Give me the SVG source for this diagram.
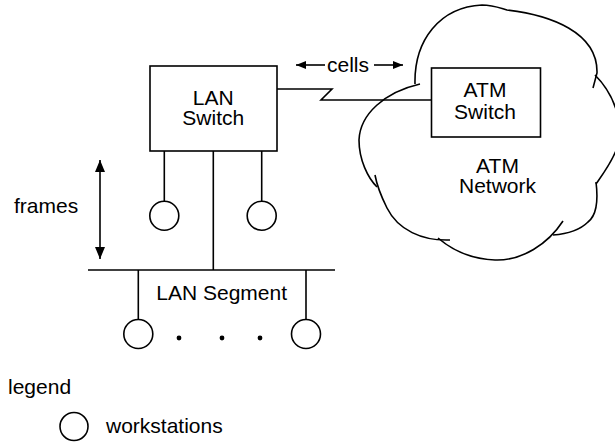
<svg xmlns="http://www.w3.org/2000/svg" width="615" height="442" viewBox="0 0 615 442">
<style>
.s{fill:none;stroke:#000;stroke-width:1.6}
.b{fill:#fff;stroke:#000;stroke-width:1.6}
.t{font-family:"Liberation Sans",Arial,Helvetica,sans-serif;font-size:21px;fill:#000}
.m{text-anchor:middle}
</style>
<defs>
<marker id="ah" viewBox="0 0 10 10" refX="10" refY="5" markerWidth="10" markerHeight="10" markerUnits="userSpaceOnUse" orient="auto-start-reverse">
<path d="M0,1 L10,5 L0,9 Z" fill="#000"/>
</marker>
<marker id="ah2" viewBox="0 0 12 10" refX="12" refY="5" markerWidth="12" markerHeight="10" markerUnits="userSpaceOnUse" orient="auto-start-reverse">
<path d="M0,0 L12,5 L0,10 Z" fill="#000"/>
</marker>
</defs>
<g id="atm-network">
<path class="s" d="M415,84 C414,40 440,7 482,5 C493,5 500,8 507,10 C550,15 598,32 597,73 L593,88"/>
<path class="s" d="M595,75 C612,92 625,120 617,148 C612,162 603,174 596,184"/>
<path class="s" d="M596,182 C598,198 597,215 588,222 C580,230 567,234 553,235"/>
<path class="s" d="M563,221 C548,244 522,261 495,260 C470,259 452,250 438,238"/>
<path class="s" d="M450,240 C422,241 398,230 387,208 C381,196 377,186 375,175"/>
<path class="s" d="M420,84 C385,92 360,114 359,140 C359,160 368,178 377,187"/>
<text class="t m" x="497.5" y="172.5">ATM</text>
<text class="t m" x="497.5" y="193">Network</text>
</g>
<g id="connectors">
<path class="s" d="M277,89 L332,89 L321,100 L431,100"/>
<line class="s" x1="213.3" y1="151" x2="213.3" y2="270"/>
<line class="s" x1="164.3" y1="151" x2="164.3" y2="201.2"/>
<line class="s" x1="261.7" y1="151" x2="261.7" y2="201.2"/>
<line class="s" x1="88" y1="270" x2="335" y2="270"/>
<line class="s" x1="138.3" y1="270" x2="138.3" y2="319.5"/>
<line class="s" x1="306" y1="270" x2="306" y2="319.5"/>
<line class="s" x1="100" y1="160" x2="100" y2="259" stroke-width="1.3" marker-start="url(#ah2)" marker-end="url(#ah2)"/>
<line class="s" x1="325" y1="65" x2="296" y2="65" stroke-width="1.3" marker-end="url(#ah)"/>
<line class="s" x1="374" y1="65" x2="403" y2="65" stroke-width="1.3" marker-end="url(#ah)"/>
</g>
<g id="lan-switch">
<rect class="b" x="150" y="66" width="127" height="85"/>
<text class="t m" x="213.3" y="104.5">LAN</text>
<text class="t m" x="213.3" y="125">Switch</text>
</g>
<g id="atm-switch">
<rect class="b" x="431.5" y="68" width="109" height="69"/>
<text class="t m" x="485" y="97">ATM</text>
<text class="t m" x="485" y="119">Switch</text>
</g>
<g id="ws1"><circle class="b" cx="164.3" cy="215.7" r="14.5"/></g>
<g id="ws2"><circle class="b" cx="261.7" cy="215.7" r="14.5"/></g>
<g id="ws3"><circle class="b" cx="138.3" cy="334" r="14.5"/></g>
<g id="ws4"><circle class="b" cx="306" cy="334" r="14.5"/></g>
<g id="dots">
<circle cx="179" cy="338" r="2.4"/>
<circle cx="222" cy="338" r="2.4"/>
<circle cx="260" cy="338" r="2.4"/>
</g>
<g id="labels">
<text class="t" x="327" y="72">cells</text>
<text class="t" x="14" y="213.3">frames</text>
<text class="t m" x="221.7" y="300">LAN Segment</text>
</g>
<g id="legend">
<text class="t" x="8" y="394">legend</text>
<circle class="b" cx="74" cy="426.5" r="14"/>
<text class="t" x="106" y="433.3">workstations</text>
</g>
</svg>
